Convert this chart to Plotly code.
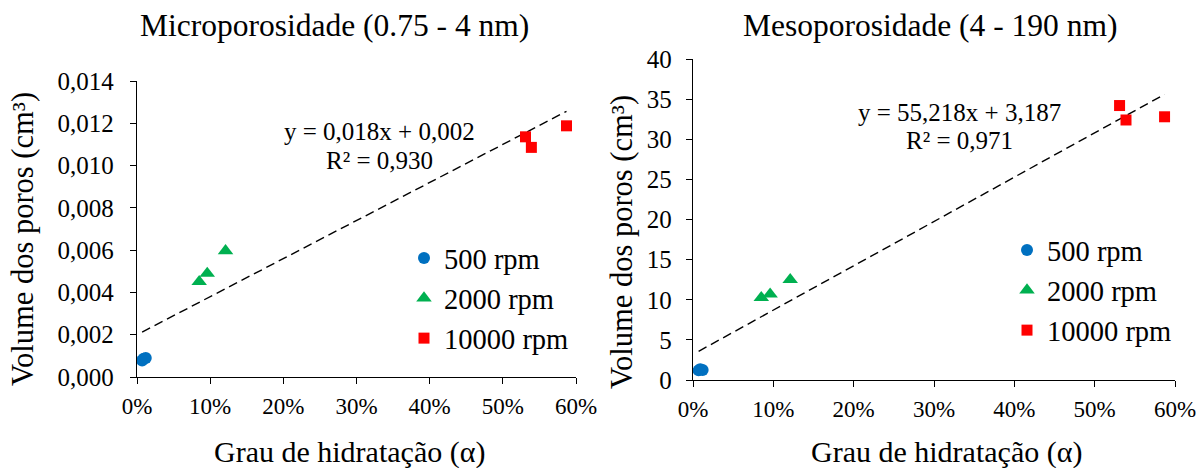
import plotly.graph_objects as go

# Degree of hydration (alpha) for each rotation speed
alpha_500 = [0.007, 0.009, 0.012]
alpha_2000 = [0.085, 0.096, 0.121]
alpha_10000 = [0.531, 0.539, 0.587]

# Micropore volume (cm3), 0.75 - 4 nm
micro_500 = [0.00078, 0.00086, 0.00090]
micro_2000 = [0.00451, 0.00490, 0.00597]
micro_10000 = [0.01136, 0.01086, 0.01188]

# Mesopore volume (cm3), 4 - 190 nm
meso_500 = [1.20, 1.35, 1.25]
meso_2000 = [10.26, 10.70, 12.50]
meso_10000 = [34.2, 32.4, 32.8]

# Linear trend lines (slope, intercept) with R2
micro_fit = (0.018, 0.002, 0.930)
meso_fit = (55.218, 3.187, 0.971)

series_names = ["500 rpm", "2000 rpm", "10000 rpm"]
series_colors = ["#0070C0", "#00B050", "#FF0000"]
series_symbols = ["circle", "triangle-up", "square"]
series_sizes = [12, 13.5, 11]

x_ticks = [0, 0.1, 0.2, 0.3, 0.4, 0.5, 0.6]

W, H = 1201, 468
FONT = "Liberation Serif, Times New Roman, serif"


def px_x(p):
    return p / W


def px_y(p):
    return 1 - p / H


fig = go.Figure()

alphas = [alpha_500, alpha_2000, alpha_10000]
panels = [
    ([micro_500, micro_2000, micro_10000], micro_fit, "x", "y", "legend"),
    ([meso_500, meso_2000, meso_10000], meso_fit, "x2", "y2", "legend2"),
]

for vols, fit, xa, ya, leg in panels:
    all_x = [v for a in alphas for v in a]
    x0, x1 = min(all_x), max(all_x)
    slope, intercept, _ = fit
    fig.add_trace(go.Scatter(
        x=[x0, x1], y=[slope * x0 + intercept, slope * x1 + intercept],
        mode="lines", line=dict(color="black", width=1.4, dash="9px,5px"),
        showlegend=False, xaxis=xa, yaxis=ya, hoverinfo="skip"))
    for name, color, sym, size, ax, vy in zip(series_names, series_colors,
                                               series_symbols, series_sizes,
                                               alphas, vols):
        fig.add_trace(go.Scatter(
            x=ax, y=vy, mode="markers", name=name, legendgroup=leg + name,
            marker=dict(color=color, symbol=sym, size=size, line=dict(width=0)),
            xaxis=xa, yaxis=ya, legend=leg, cliponaxis=False))

axis_common = dict(
    showline=True, linecolor="black", linewidth=1.3, mirror=False,
    ticks="outside", ticklen=6, tickwidth=1.3, tickcolor="black",
    showgrid=False, zeroline=False, automargin=False,
)
xfont = dict(family=FONT, size=23, color="black")
yfont = dict(family=FONT, size=25, color="black")
legfont = dict(family=FONT, size=28.5, color="black")

fig.update_layout(
    width=W, height=H,
    margin=dict(l=0, r=0, t=0, b=0, autoexpand=False),
    paper_bgcolor="white", plot_bgcolor="white",
    separators=",.",
    font=dict(family=FONT, color="black"),
    xaxis=dict(domain=[px_x(137), px_x(576)], range=[0, 0.6], tickvals=x_ticks,
               tickformat=".0%", tickfont=xfont, anchor="y",
               ticklabelstandoff=2, **axis_common),
    yaxis=dict(domain=[px_y(377), px_y(81)], range=[0, 0.014], dtick=0.002,
               tickformat=".3f", tickfont=yfont, anchor="x",
               ticklabelstandoff=11, **axis_common),
    xaxis2=dict(domain=[px_x(693), px_x(1175)], range=[0, 0.6], tickvals=x_ticks,
                tickformat=".0%", tickfont=xfont, anchor="y2",
                ticklabelstandoff=2, **axis_common),
    yaxis2=dict(domain=[px_y(380), px_y(59)], range=[0, 40], dtick=5,
                tickformat="d", tickfont=yfont, anchor="x2",
                ticklabelstandoff=9, **axis_common),
    legend=dict(x=px_x(404), y=px_y(233), xanchor="left", yanchor="top",
                font=legfont, bgcolor="rgba(0,0,0,0)", itemwidth=30,
                tracegroupgap=0),
    legend2=dict(x=px_x(1007), y=px_y(225), xanchor="left", yanchor="top",
                 font=legfont, bgcolor="rgba(0,0,0,0)", itemwidth=30,
                 tracegroupgap=0),
)


def note(text, x, y, size, angle=0):
    fig.add_annotation(text=text, x=px_x(x), y=px_y(y), xref="paper", yref="paper",
                       xanchor="center", yanchor="middle", showarrow=False,
                       textangle=angle, font=dict(family=FONT, size=size, color="black"))


# Chart titles
note("Microporosidade (0.75 - 4 nm)", 334, 25, 31.5)
note("Mesoporosidade (4 - 190 nm)", 930, 25, 31.5)

# Axis titles
note("Grau de hidratação (α)", 350, 452, 30)
note("Grau de hidratação (α)", 946, 452, 30)
note("Volume dos poros (cm³)", 23, 239, 30.5, angle=-90)
note("Volume dos poros (cm³)", 622, 242, 30.5, angle=-90)


def fmt(v, d):
    return f"{v:.{d}f}".replace(".", ",")


# Trend line equations
note(f"y = {fmt(micro_fit[0], 3)}x + {fmt(micro_fit[1], 3)}", 379, 131, 25)
note(f"R² = {fmt(micro_fit[2], 3)}", 379, 160, 25)
note(f"y = {fmt(meso_fit[0], 3)}x + {fmt(meso_fit[1], 3)}", 959, 112, 25)
note(f"R² = {fmt(meso_fit[2], 3)}", 959, 140, 25)

fig.write_html("out.html")
